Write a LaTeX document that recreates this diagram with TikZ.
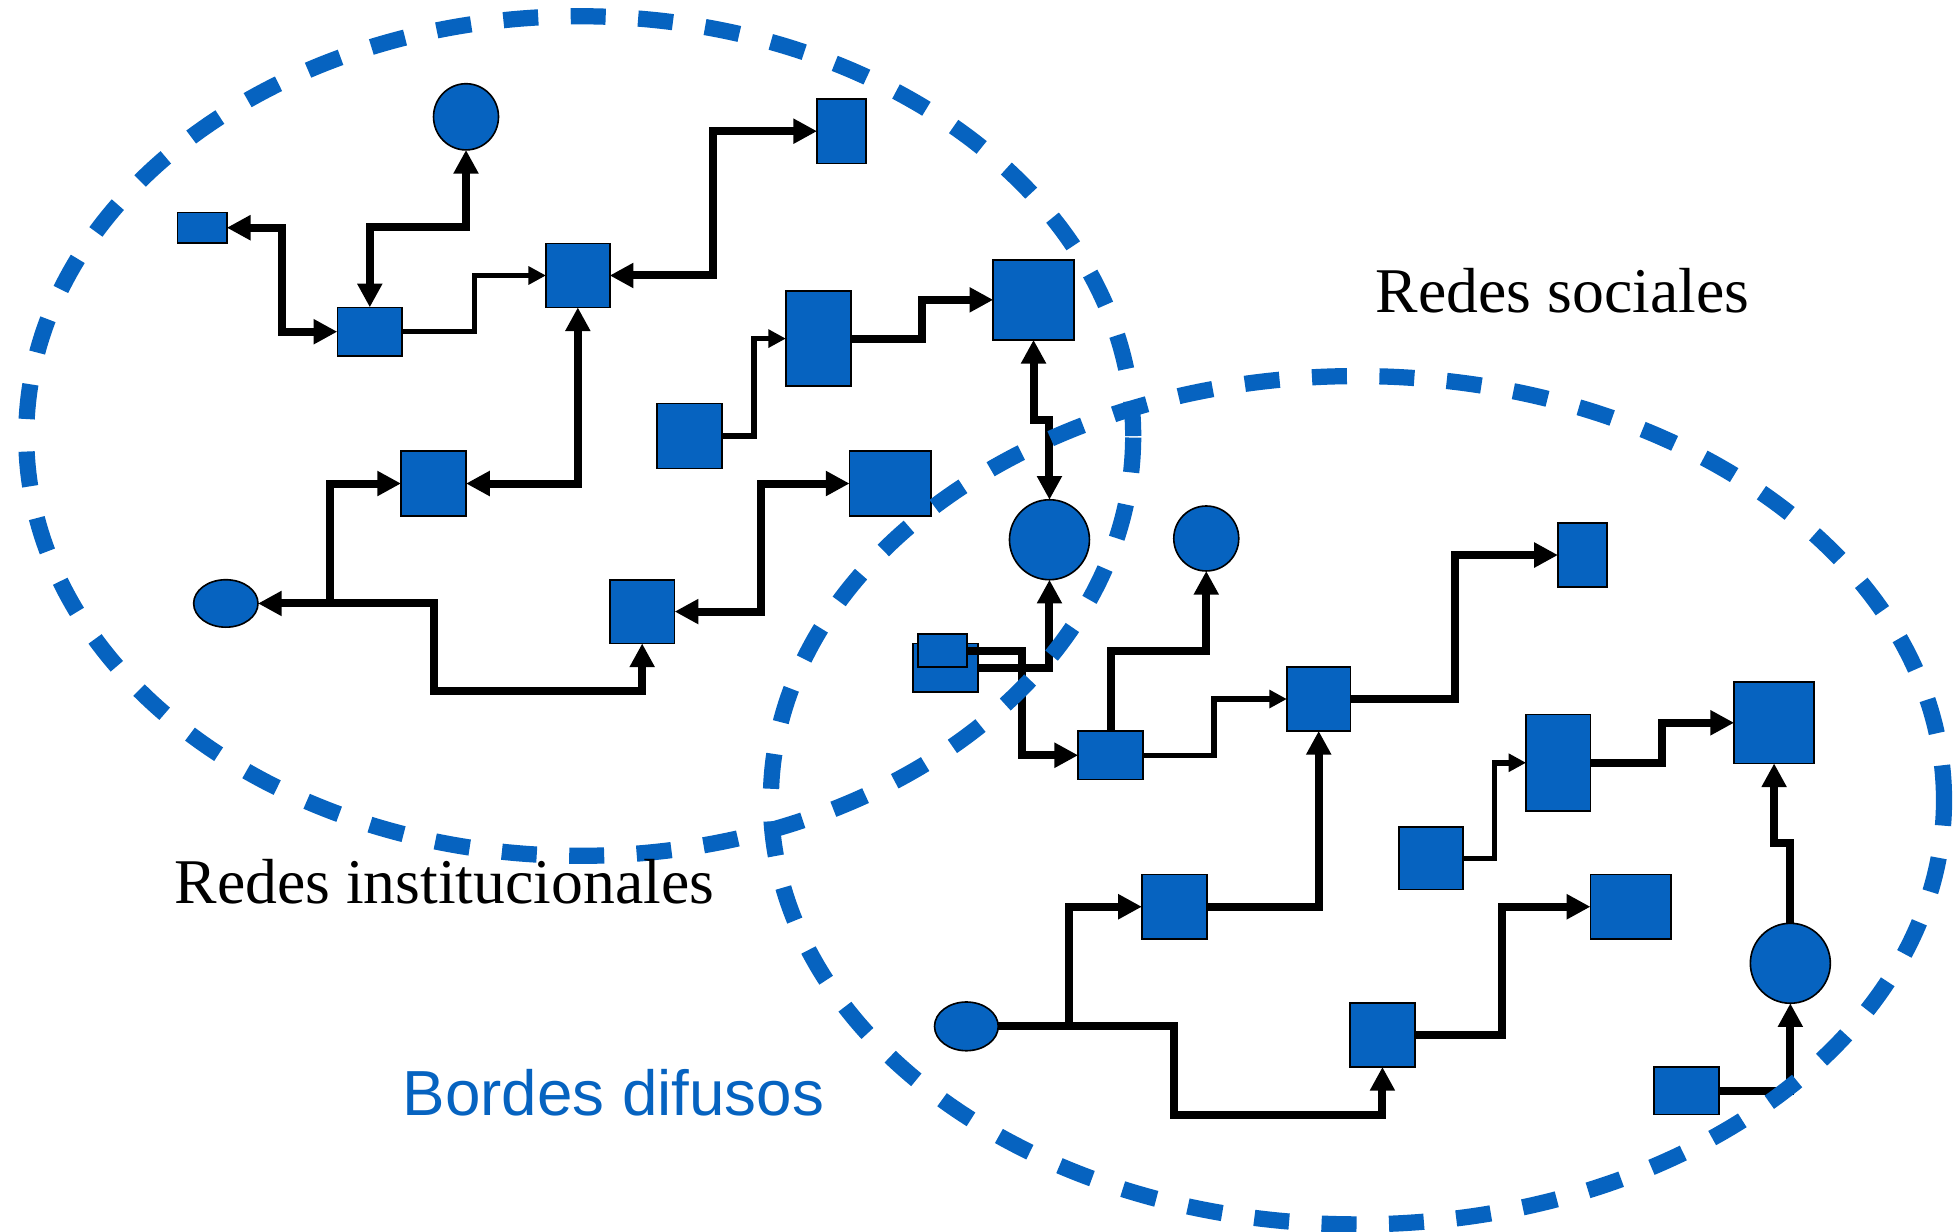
\documentclass[tikz,border=0pt]{standalone}
\usepackage{fontspec}
\setmainfont{Liberation Serif}
\newfontfamily\arialfont{Liberation Sans}
\usetikzlibrary{arrows.meta,fit,shapes.geometric}
\definecolor{netblue}{RGB}{6,99,192}
\begin{document}
\begin{tikzpicture}[x=1pt,y=-1pt,
  box/.style={rectangle, draw=black, line width=1.3pt, fill=netblue, inner sep=0pt, outer sep=0pt, minimum size=0pt},
  blob/.style={ellipse, draw=black, line width=1.3pt, fill=netblue, inner sep=0pt, outer sep=0pt},
  conn/.style={draw=black, line width=6.4pt},
  thinconn/.style={draw=black, line width=4.4pt},
  toarrow/.style={-{Triangle[length=19pt,width=19pt]}},
  bothtips/.style={{Triangle[length=19pt,width=19pt]}-{Triangle[length=19pt,width=19pt]}},
  thintip/.style={-{Triangle[length=14pt,width=14pt]}},
  border/.style={draw=netblue, line width=13pt, dash pattern=on 28pt off 26pt},
  lbl/.style={anchor=base west, inner sep=0pt, font=\fontsize{51}{61}\selectfont}
]
\useasboundingbox (0,0) rectangle (1568,986);

% ---- nodes ----
\node[blob, minimum width=52pt, minimum height=53pt] (n1) at (373,93.5) {};
\node[box, fit={(142,170) (181.5,194.5)}] (n2) {};
\node[box, fit={(270,246) (322,285)}] (n3) {};
\node[box, fit={(437,195) (488,246)}] (n4) {};
\node[box, fit={(654,79) (693,131)}] (n5) {};
\node[box, fit={(629,233) (681,309)}] (n6) {};
\node[box, fit={(795,208) (859.5,272)}] (n7) {};
\node[box, fit={(526,323) (578,375)}] (n8) {};
\node[box, fit={(321,361) (373,413)}] (n9) {};
\node[box, fit={(680,361) (745,413)}] (n10) {};
\node[blob, minimum width=51.5pt, minimum height=38pt] (n11) at (180.75,483) {};
\node[box, fit={(488,464) (540,515)}] (n12) {};
\node[blob, minimum width=64pt, minimum height=64pt] (n13) at (840,432) {};
\node[blob, minimum width=52pt, minimum height=52pt] (n14) at (965.5,431) {};
\node[box, fit={(731,515) (783,554)}] (n15b) {};
\node[box, fit={(735,507.5) (774,534)}] (n15a) {};
\node[box, fit={(863,585) (915,624)}] (n16) {};
\node[box, fit={(1030,534) (1081,585)}] (n17) {};
\node[box, fit={(1247,418.5) (1286,470)}] (n18) {};
\node[box, fit={(1221.5,572) (1273,649)}] (n19) {};
\node[box, fit={(1388,546) (1452,611)}] (n20) {};
\node[box, fit={(1120,662) (1171,712)}] (n21) {};
\node[box, fit={(914,700) (966,751.5)}] (n22) {};
\node[box, fit={(1273,700) (1337.5,751.5)}] (n23) {};
\node[blob, minimum width=64pt, minimum height=64pt] (n24) at (1433,771) {};
\node[blob, minimum width=51pt, minimum height=39pt] (n25) at (773.5,821.5) {};
\node[box, fit={(1080.5,803) (1132.5,854)}] (n26) {};
\node[box, fit={(1324,854) (1376,892)}] (n27) {};

\coordinate (j1) at (264,483);
\coordinate (j2) at (856,821.5);

% ---- connectors ----
\draw[conn,bothtips] (n3.north) |- (373,181.5) -- (n1.south);
\draw[conn,bothtips] (n2.east) -| (225.4,265.5) -- (n3.west);
\draw[thinconn,thintip] (n3.east) -| (379.6,220.5) -- (n4.west);
\draw[conn,bothtips] (n4.east) -| (571,105) -- (n5.west);
\draw[conn,bothtips] (n9.east) -| (n4.south);
\draw[conn,bothtips] (n11.east) -- (j1) |- (n9.west);
\draw[conn,toarrow] (j1) -- (347.5,483) |- (514,552.8) -- (n12.south);
\draw[conn,bothtips] (n12.east) -| (609,387) -- (n10.west);
\draw[thinconn,thintip] (n8.east) -| (603.6,271) -- (n6.west);
\draw[conn,toarrow] (n6.east) -| (737.7,240) -- (n7.west);
\draw[conn,bothtips] (n7.south) -- (827.25,335.8) -- (840,335.8) -- (n13.north);
\draw[conn,toarrow] (n15a.east) -| (817.7,604.5) -- (n16.west);
\draw[conn,toarrow] (n15b.east) -| (n13.south);
\draw[conn,toarrow] (n16.north) |- (965.5,521) -- (n14.south);
\draw[thinconn,thintip] (n16.east) -| (971.5,559.5) -- (n17.west);
\draw[conn,toarrow] (n17.east) -| (1164.6,444.25) -- (n18.west);
\draw[conn,toarrow] (n22.east) -| (n17.south);
\draw[conn,toarrow] (n25.east) -- (j2) |- (n22.west);
\draw[conn,toarrow] (j2) -| (939.7,892.5) -| (n26.south);
\draw[conn,toarrow] (n26.east) -| (1202,725.75) -- (n23.west);
\draw[thinconn,thintip] (n21.east) -| (1196,610.5) -- (n19.west);
\draw[conn,toarrow] (n19.east) -| (1330,578.5) -- (n20.west);
\draw[conn,toarrow] (n24.north) -- (1433,674.5) -- (1420,674.5) -- (n20.south);
\draw[conn,toarrow] (n27.east) -| (n24.south);

% ---- fuzzy borders ----
\draw[border] (464,349) ellipse [x radius=443pt, y radius=336pt];
\draw[border] (1086.5,640.5) ellipse [x radius=469.5pt, y radius=339.5pt];

% ---- labels ----
\node[lbl] (t1) at (1101,250) {Redes sociales};
\node[lbl] (t2) at (139.5,723) {Redes institucionales};
\node[lbl, text=netblue, font=\arialfont\fontsize{51}{61}\selectfont] (t3) at (322,892.5) {Bordes difusos};
\end{tikzpicture}
\end{document}
